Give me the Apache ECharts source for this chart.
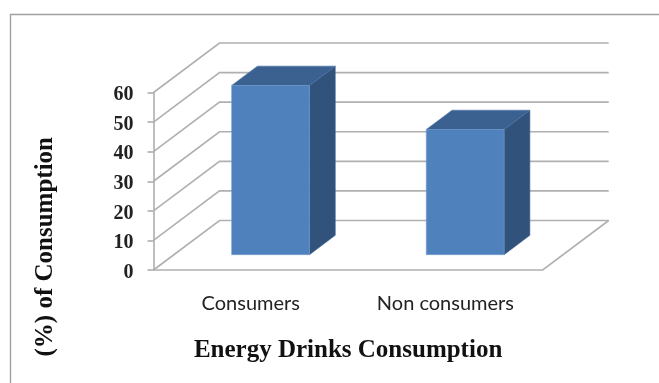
<!DOCTYPE html>
<html>
<head>
<meta charset="utf-8">
<style>html,body{margin:0;padding:0;background:#fff}#c{width:659px;height:383px}</style>
<script src="https://cdn.jsdelivr.net/npm/echarts@6/dist/echarts.min.js"></script>
</head>
<body>
<div id="c"></div>
<script>
var categories = ['Consumers', 'Non consumers'];
var values = [57.2, 42.3];
var yTicks = [0, 10, 20, 30, 40, 50, 60];
var xTitle = 'Energy Drinks Consumption';
var yTitle = '(%) of Consumption';

var DX = 66, DY = 49.5, NEAR = 0.30, FAR = 0.69;
var LINE = {stroke: '#b0b0b0', lineWidth: 1.6, fill: 'none'};

function wallItem(params, api) {
  var v = api.value(1), c = params.coordSys;
  var p = api.coord([0, v]);
  var y = p[1], x0 = c.x, x1 = c.x + c.width;
  var children = [{
    type: 'polyline', style: LINE,
    shape: {points: [[x0, y], [x0 + DX, y - DY], [x1 + DX, y - DY]]}
  }];
  if (v === yTicks[0]) {
    children.push({
      type: 'polyline', style: LINE,
      shape: {points: [[x0, y], [x1, y], [x1 + DX, y - DY]]}
    });
  }
  return {type: 'group', children: children};
}

function barItem(params, api) {
  var i = api.value(0), v = api.value(1);
  var top = api.coord([i, v]), base = api.coord([i, 0]);
  var w = api.size([1, 0])[0] / 2.5;
  var ox = DX * NEAR, oy = DY * 0.31;
  var l = top[0] - w / 2 + ox, r = l + w;
  var t = top[1] - oy, b = base[1] - oy;
  var dx = DX * (FAR - NEAR), dy = DY * (FAR - NEAR);
  return {type: 'group', children: [
    {type: 'polygon', shape: {points: [[r, t], [r + dx, t - dy], [r + dx, b - dy], [r, b]]},
      style: {fill: '#31527b', stroke: '#3f6390', lineWidth: 0.6}},
    {type: 'polygon', shape: {points: [[l, t], [l + dx, t - dy], [r + dx, t - dy], [r, t]]},
      style: {fill: '#3b6190', stroke: '#4a74a8', lineWidth: 0.6}},
    {type: 'rect', shape: {x: l, y: t, width: w, height: b - t},
      style: {fill: '#4f81bd', stroke: '#6f99cc', lineWidth: 0.6}}
  ]};
}

var chart = echarts.init(document.getElementById('c'), null, {renderer: 'canvas'});
chart.setOption({
  animation: false,
  backgroundColor: '#fff',
  grid: {left: 153.5, top: 92.5, width: 389.2, height: 177.5},
  graphic: [{
    type: 'rect', silent: true, z: -10,
    shape: {x: 10.5, y: 14.5, width: 760, height: 460},
    style: {fill: 'none', stroke: '#a0a0a0', lineWidth: 1.4}
  }],
  xAxis: {
    type: 'category', data: categories,
    axisLine: {show: false}, axisTick: {show: false},
    axisLabel: {margin: 24, fontFamily: 'Lato', fontSize: 20, color: '#222'},
    name: xTitle, nameLocation: 'middle', nameGap: 68,
    nameTextStyle: {fontFamily: 'Liberation Serif', fontWeight: 'bold', fontSize: 25, color: '#111'}
  },
  yAxis: {
    type: 'value', min: yTicks[0], max: yTicks[yTicks.length - 1], interval: 10,
    splitLine: {show: false},
    axisLine: {show: true, lineStyle: {color: '#a8a8a8', width: 1.5}},
    axisTick: {show: true, length: 6, lineStyle: {color: '#a8a8a8', width: 1.5}},
    axisLabel: {margin: 20, verticalAlign: 'top', lineHeight: 5, fontFamily: 'Liberation Serif', fontWeight: 'bold', fontSize: 20, color: '#222'},
    name: yTitle, nameLocation: 'middle', nameGap: 95, nameRotate: 90,
    nameTextStyle: {fontFamily: 'Liberation Serif', fontWeight: 'bold', fontSize: 25, color: '#111', padding: [0, 131, 0, 0]}
  },
  series: [
    {type: 'custom', name: 'walls', renderItem: wallItem, z: 1, silent: true,
      encode: {x: 0, y: 1}, data: yTicks.map(function (v) { return [0, v]; })},
    {type: 'custom', name: 'Consumption', renderItem: barItem, z: 3, silent: true,
      encode: {x: 0, y: 1}, data: values.map(function (v, i) { return [i, v]; })}
  ]
});
</script>
</body>
</html>
